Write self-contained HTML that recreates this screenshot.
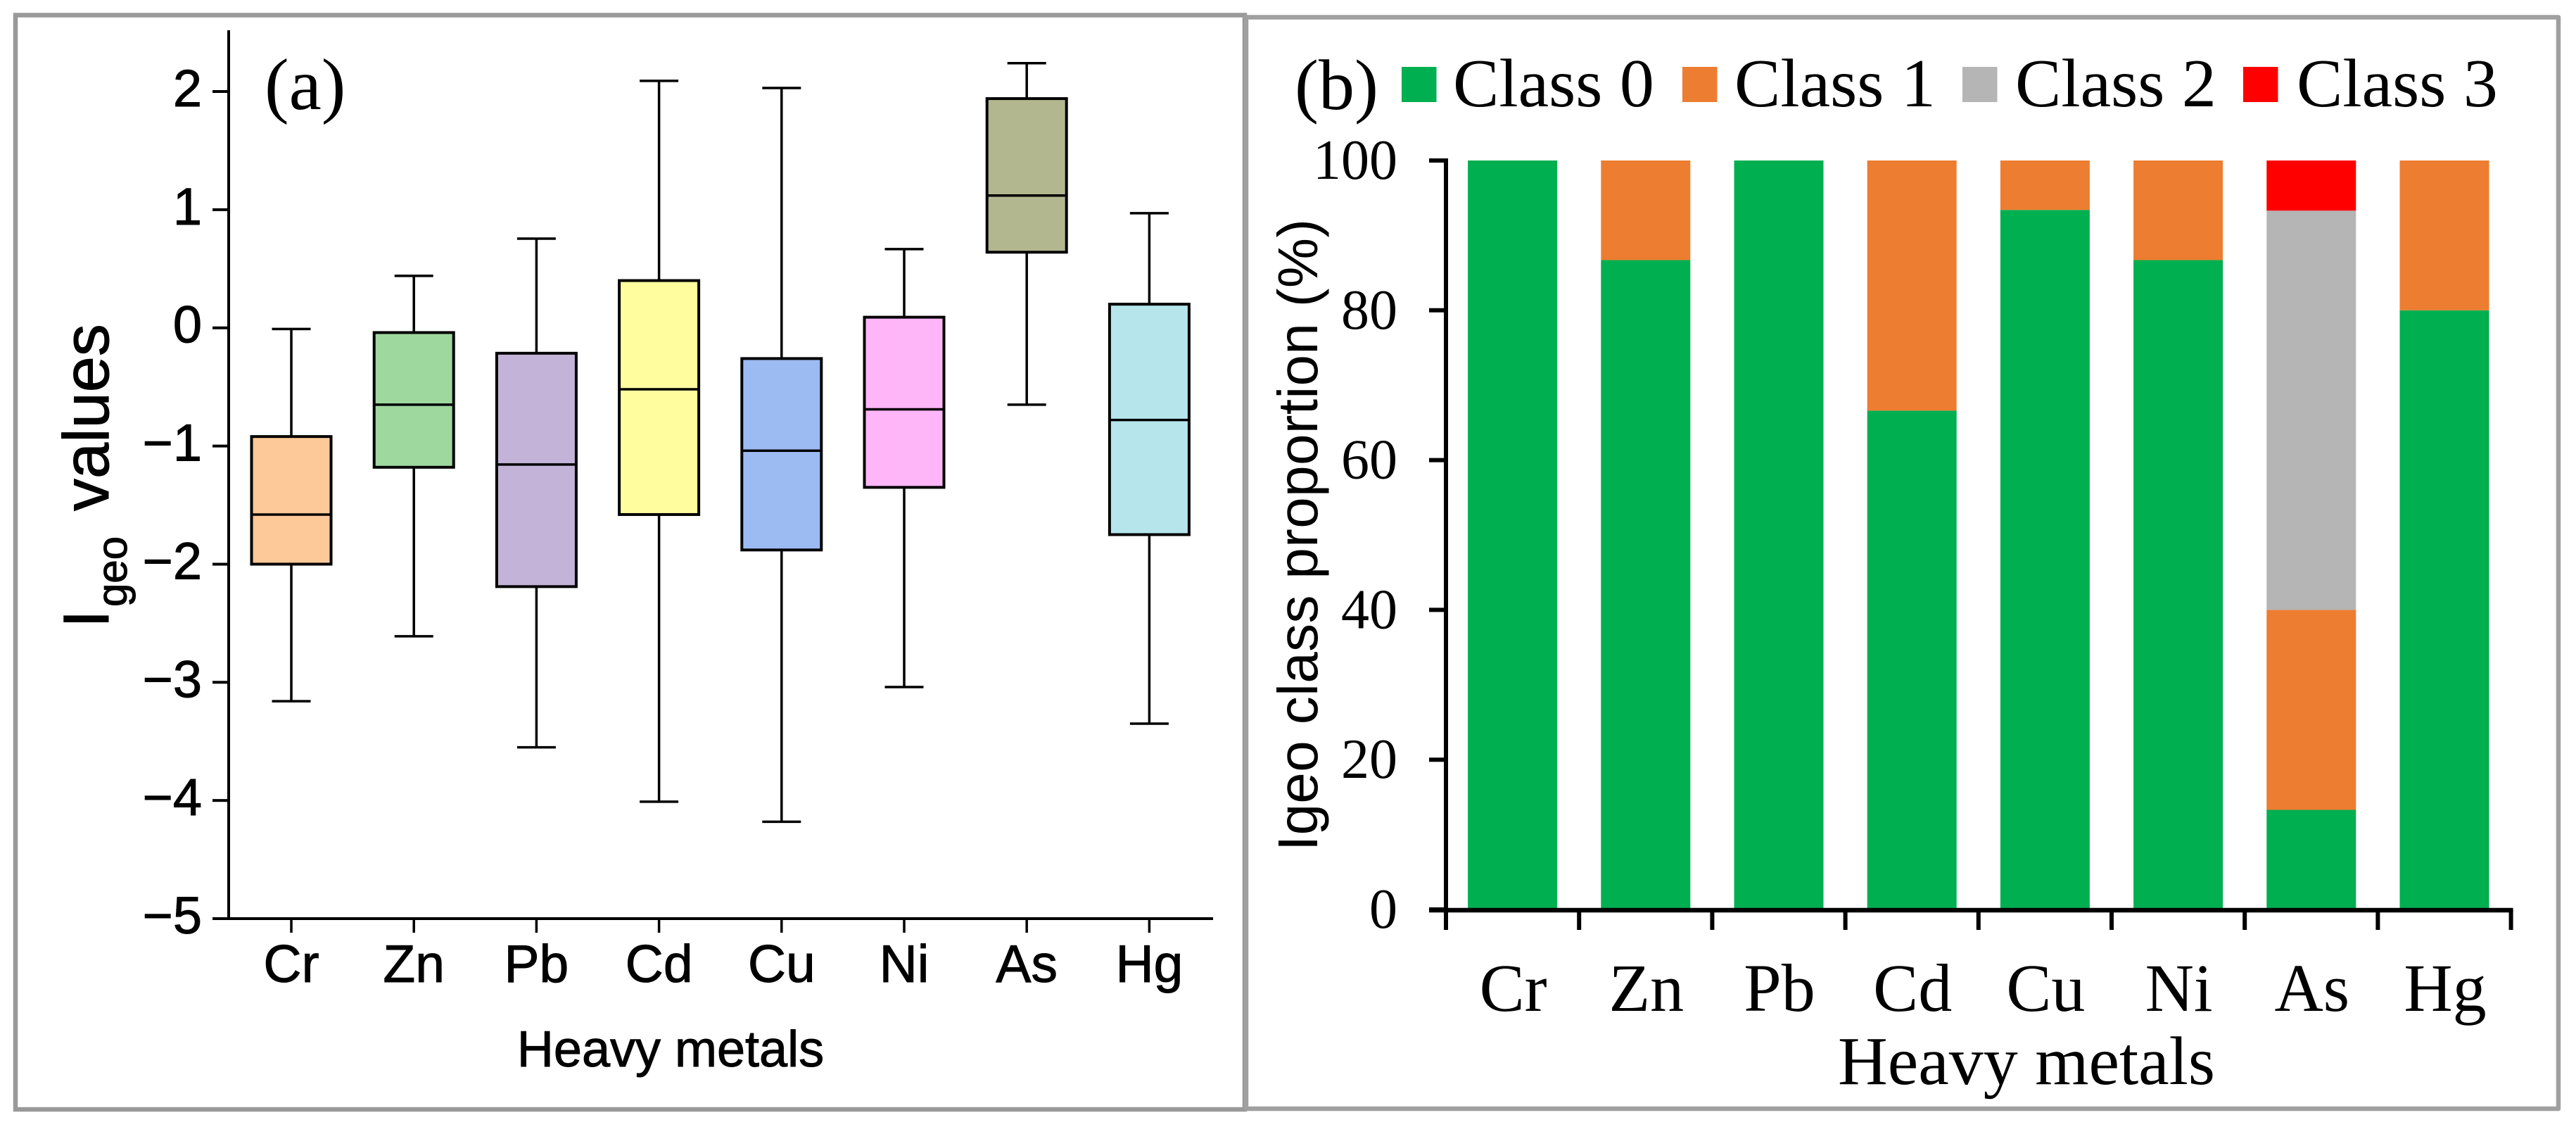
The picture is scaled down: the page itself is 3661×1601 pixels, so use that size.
<!DOCTYPE html>
<html lang="en">
<head>
<meta charset="utf-8">
<title>Igeo values and class proportion of heavy metals</title>
<style>
html,body{margin:0;padding:0;background:#fff;width:3661px;height:1601px;overflow:hidden}
svg{display:block}
.sans{font-family:"Liberation Sans",Arial,sans-serif}
.serif{font-family:"Liberation Serif","Times New Roman",serif}
#panel-a .sans{stroke:#000;stroke-width:1px}
</style>
</head>
<body>
<svg id="figure" xmlns="http://www.w3.org/2000/svg" width="3661" height="1601" viewBox="0 0 3661 1601">
  <rect x="0" y="0" width="3661" height="1601" fill="#ffffff"/>
  <rect x="22" y="21.5" width="1747" height="1554.5" fill="none" stroke="#999999" stroke-width="6.5"/>
  <rect x="1771" y="24.5" width="1865" height="1550.5" fill="none" stroke="#a0a0a0" stroke-width="6.5" stroke-linejoin="round"/>
  <g id="panel-a"></g>
  <g id="panel-b"></g>
</svg>
<script>
// Shared categories
const categories = ['Cr', 'Zn', 'Pb', 'Cd', 'Cu', 'Ni', 'As', 'Hg'];

// Panel (a): box plot values
const whiskerHigh = [-0.01, 0.44, 0.755, 2.09, 2.03, 0.666, 2.24, 0.97];
const quartile3 = [-0.92, -0.04, -0.215, 0.40, -0.26, 0.09, 1.94, 0.20];
const medians = [-1.58, -0.65, -1.157, -0.52, -1.04, -0.69, 1.12, -0.78];
const quartile1 = [-2.0, -1.18, -2.19, -1.58, -1.88, -1.35, 0.64, -1.75];
const whiskerLow = [-3.16, -2.61, -3.55, -4.01, -4.18, -3.04, -0.65, -3.35];
const boxColors = ['#fdc998', '#9fd89f', '#c3b3d8', '#fffd9e', '#9cbbf3', '#ffb6f8', '#b3b790', '#b6e6ec'];
const ticksA = [2, 1, 0, -1, -2, -3, -4, -5];

// Panel (b): stacked class proportions (%)
const class0 = [100, 86.7, 100, 66.6, 93.4, 86.7, 13.3, 80];
const class1 = [0, 13.3, 0, 33.4, 6.6, 13.3, 26.7, 20];
const class2 = [0, 0, 0, 0, 0, 0, 53.3, 0];
const class3 = [0, 0, 0, 0, 0, 0, 6.7, 0];
const classNames = ['Class 0', 'Class 1', 'Class 2', 'Class 3'];
const classColors = ['#00af50', '#ed7d31', '#b5b5b5', '#ff0000'];
const ticksB = [100, 80, 60, 40, 20, 0];

const NS = 'http://www.w3.org/2000/svg';
function make(parent, tag, attrs, content) {
  const node = document.createElementNS(NS, tag);
  for (const k in attrs) node.setAttribute(k, attrs[k]);
  if (content !== undefined) node.textContent = content;
  parent.appendChild(node);
  return node;
}

// Axis functions
function yA(v) { return 130 + (2 - v) * 167.86; }
function xA(i) { return 414 + i * 174.2; }
function yB(v) { return 1292 - v * 10.64; }
function xBEdge(i) { return 2055 + i * 189.2; }
function xB(i) { return xBEdge(i) + 94.6; }

const panelA = document.getElementById('panel-a');
const panelB = document.getElementById('panel-b');

/* ---------- Panel (a) ---------- */
const axisYA = make(panelA, 'line', {x1: 325, y1: 43, x2: 325, y2: yA(-5) + 2, stroke: '#000', 'stroke-width': 4});


const axisXA = make(panelA, 'line', {x1: 302, y1: yA(-5), x2: 1724, y2: yA(-5), stroke: '#000', 'stroke-width': 4});



ticksA.forEach(function (t) {
  const y = yA(t);
  const tick = make(panelA, 'line', {x1: 302, y1: y, x2: 325, y2: y, stroke: '#000', 'stroke-width': 4});
  
  
  const label = make(panelA, 'text', {x: 287, y: y + 21, 'text-anchor': 'end', 'font-size': 74, fill: '#000', class: 'sans'}, String(t).replace('-', '\u2212'));
  
  
});

categories.forEach(function (cat, i) {
  const x = xA(i);
  const tick = make(panelA, 'line', {x1: x, y1: yA(-5), x2: x, y2: 1325, stroke: '#000', 'stroke-width': 3.5});
  
  
  const label = make(panelA, 'text', {x: x, y: 1395, 'text-anchor': 'middle', 'font-size': 75, fill: '#000', class: 'sans'}, cat);
  
  

  const whisker = make(panelA, 'line', {x1: x, y1: yA(whiskerHigh[i]), x2: x, y2: yA(whiskerLow[i]), stroke: '#000', 'stroke-width': 3.5});
  
  
  const capHigh = make(panelA, 'line', {x1: x - 27.5, y1: yA(whiskerHigh[i]), x2: x + 27.5, y2: yA(whiskerHigh[i]), stroke: '#000', 'stroke-width': 3.5});
  
  
  const capLow = make(panelA, 'line', {x1: x - 27.5, y1: yA(whiskerLow[i]), x2: x + 27.5, y2: yA(whiskerLow[i]), stroke: '#000', 'stroke-width': 3.5});
  
  
  const box = make(panelA, 'rect', {x: x - 56.5, y: yA(quartile3[i]), width: 113, height: yA(quartile1[i]) - yA(quartile3[i]), fill: boxColors[i], stroke: '#000', 'stroke-width': 4});
  
  
  const median = make(panelA, 'line', {x1: x - 56.5, y1: yA(medians[i]), x2: x + 56.5, y2: yA(medians[i]), stroke: '#000', 'stroke-width': 3.5});
  
  
});

const titleXA = make(panelA, 'text', {x: 953, y: 1515, 'text-anchor': 'middle', 'font-size': 72, fill: '#000', class: 'sans'}, 'Heavy metals');



const titleI = make(panelA, 'text', {transform: 'translate(154 892) rotate(-90)', 'font-size': 92, fill: '#000', class: 'sans'}, 'I');


const titleGeo = make(panelA, 'text', {transform: 'translate(180 862) rotate(-90)', 'font-size': 60, fill: '#000', class: 'sans'}, 'geo');


const titleValues = make(panelA, 'text', {transform: 'translate(154 726) rotate(-90)', 'font-size': 92, fill: '#000', class: 'sans'}, 'values');



const tagA = make(panelA, 'text', {x: 376, y: 155, 'font-size': 104, fill: '#000', class: 'serif'}, '(a)');



/* ---------- Panel (b) ---------- */
const series = [class0, class1, class2, class3];
categories.forEach(function (cat, i) {
  let running = 0;
  series.forEach(function (values, s) {
    const v = values[i];
    if (v > 0) {
      const seg = make(panelB, 'rect', {x: xB(i) - 63.5, y: yB(running + v), width: 127, height: yB(running) - yB(running + v), fill: classColors[s]});
      
      
    }
    running += v;
  });
  const label = make(panelB, 'text', {x: xB(i) + 1, y: 1436, 'text-anchor': 'middle', 'font-size': 96, fill: '#000', class: 'serif'}, cat);
  
  
});

const axisYB = make(panelB, 'line', {x1: 2055, y1: 225, x2: 2055, y2: 1321, stroke: '#000', 'stroke-width': 6});


const axisXB = make(panelB, 'line', {x1: 2031, y1: 1293, x2: xBEdge(8) + 3, y2: 1293, stroke: '#000', 'stroke-width': 6.5});



ticksB.forEach(function (t) {
  const y = yB(t);
  const tick = make(panelB, 'line', {x1: 2031, y1: y, x2: 2055, y2: y, stroke: '#000', 'stroke-width': 6});
  
  
  const label = make(panelB, 'text', {x: 1986, y: y + 26, 'text-anchor': 'end', 'font-size': 80, fill: '#000', class: 'serif'}, String(t));
  
  
});

for (let i = 1; i <= categories.length; i++) {
  const tick = make(panelB, 'line', {x1: xBEdge(i), y1: 1293, x2: xBEdge(i), y2: 1321, stroke: '#000', 'stroke-width': 6});
  
  
}

const titleXB = make(panelB, 'text', {x: 2880, y: 1540, 'text-anchor': 'middle', 'font-size': 98, fill: '#000', class: 'serif'}, 'Heavy metals');



const titleYB = make(panelB, 'text', {transform: 'translate(1872 1209) rotate(-90)', 'font-size': 80, textLength: 898, lengthAdjust: 'spacing', fill: '#000', class: 'sans'}, 'Igeo class proportion (%)');



const tagB = make(panelB, 'text', {x: 1840, y: 155, 'font-size': 102, fill: '#000', class: 'serif'}, '(b)');



const swatchX = [1992, 2391, 2789, 3188];
const legendTextX = [2065, 2465, 2864, 3264];
classNames.forEach(function (name, s) {
  const swatch = make(panelB, 'rect', {x: swatchX[s], y: 95, width: 49.5, height: 50, fill: classColors[s]});
  
  
  const label = make(panelB, 'text', {x: legendTextX[s], y: 151, 'font-size': 98, fill: '#000', class: 'serif'}, name);
  
  
});
</script>
</body>
</html>
